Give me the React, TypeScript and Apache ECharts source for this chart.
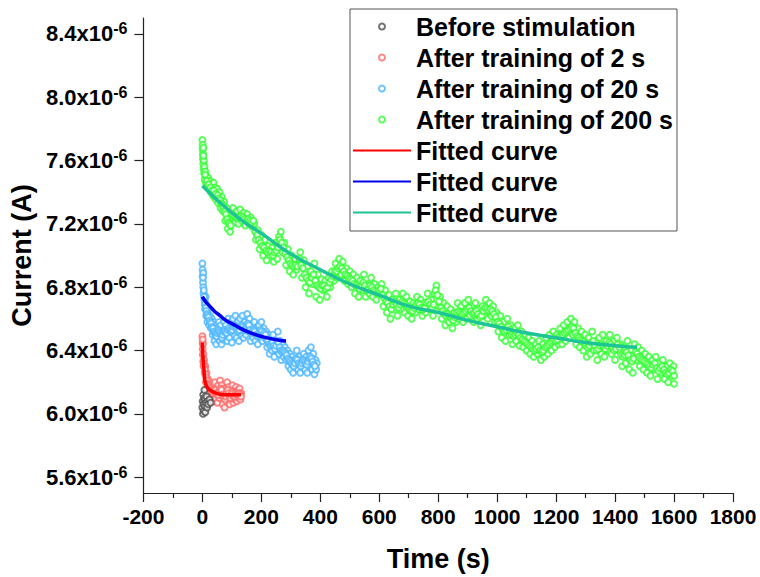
import React, { useEffect, useRef } from "react";
import * as echarts from "echarts";

// Values of current are in units of 1e-6 A
const xTicks = [-200, 1800, 200];
const yTickValues = [5.6, 6.0, 6.4, 6.8, 7.2, 7.6, 8.0, 8.4];

const beforeData: number[][] = [
  [0, 6.04], [1, 6.08], [2, 6.0], [3, 6.12], [4, 6.06], [5, 6.02], [6, 6.1], [7, 6.15], [8, 6.05],
  [9, 6.09], [10, 6.01], [12, 6.07], [14, 6.11], [16, 6.04], [18, 6.08], [20, 6.06], [24, 6.09], [28, 6.07],
];

const train2Data: number[][] = [
  [0, 6.49], [1, 6.45], [1, 6.41], [2, 6.37], [3, 6.33], [4, 6.3], [2, 6.44],
  [6, 6.34], [8, 6.26], [10, 6.3], [12, 6.2], [14, 6.26], [16, 6.16], [19, 6.22], [22, 6.14], [25, 6.2], [28, 6.12], [30, 6.18],
  [33, 6.1], [36, 6.18], [39, 6.08], [42, 6.2], [45, 6.1], [48, 6.16], [51, 6.07], [54, 6.18], [57, 6.1], [60, 6.21],
  [63, 6.12], [66, 6.18], [69, 6.06], [72, 6.16], [75, 6.04], [78, 6.14], [81, 6.08], [84, 6.2], [87, 6.1], [90, 6.17],
  [93, 6.06], [96, 6.15], [99, 6.1], [102, 6.18], [105, 6.07], [108, 6.14], [111, 6.09], [114, 6.17], [117, 6.08],
  [120, 6.15], [123, 6.1], [126, 6.16], [129, 6.09], [132, 6.13],
  [1, 6.47], [3, 6.38], [5, 6.32], [7, 6.3], [9, 6.28], [11, 6.25], [13, 6.23], [15, 6.21], [17, 6.19], [20, 6.18],
  [23, 6.17], [26, 6.16], [29, 6.15], [32, 6.14], [35, 6.13], [38, 6.13], [41, 6.14], [44, 6.15], [47, 6.13], [50, 6.12],
  [53, 6.12], [56, 6.14], [59, 6.15], [62, 6.16], [65, 6.15], [68, 6.12], [71, 6.11], [74, 6.1], [77, 6.09], [80, 6.11],
  [83, 6.14], [86, 6.15], [89, 6.13], [92, 6.11], [95, 6.1], [98, 6.12], [101, 6.14], [104, 6.13], [107, 6.11], [110, 6.11],
  [113, 6.13], [116, 6.12], [119, 6.12], [122, 6.13], [125, 6.13], [128, 6.12], [131, 6.11],
];

const train20Data: number[][] = [
  [0, 6.95], [1, 6.91], [1, 6.87], [2, 6.83], [3, 6.8], [4, 6.76], [3, 6.89], [5, 6.78],
  [7, 6.72], [9, 6.66], [11, 6.74], [13, 6.62], [15, 6.68], [17, 6.58], [20, 6.66], [23, 6.56], [26, 6.62], [29, 6.54], [32, 6.6], [35, 6.5],
  [38, 6.58], [41, 6.46], [44, 6.56], [47, 6.44], [50, 6.54], [53, 6.48], [56, 6.58], [59, 6.46], [62, 6.56], [65, 6.44], [68, 6.52], [71, 6.47], [74, 6.58], [77, 6.48],
  [80, 6.56], [84, 6.46], [88, 6.6], [92, 6.48], [96, 6.58], [100, 6.45], [104, 6.6], [108, 6.5], [112, 6.62], [116, 6.48], [120, 6.58], [124, 6.46], [128, 6.6], [132, 6.5], [136, 6.62], [140, 6.48], [144, 6.58],
  [148, 6.5], [152, 6.63], [156, 6.52], [160, 6.6], [164, 6.46], [168, 6.56], [172, 6.48], [176, 6.58], [180, 6.46], [184, 6.54], [188, 6.44], [192, 6.56], [196, 6.48], [200, 6.58], [204, 6.46], [208, 6.54], [212, 6.48],
  [216, 6.52], [220, 6.42], [224, 6.5], [228, 6.38], [232, 6.48], [236, 6.4], [240, 6.5], [244, 6.36], [248, 6.46], [252, 6.4], [256, 6.52], [260, 6.38], [264, 6.46], [268, 6.34], [272, 6.44], [276, 6.36], [280, 6.42],
  [284, 6.34], [288, 6.4], [292, 6.3], [296, 6.38], [300, 6.28], [304, 6.36], [308, 6.26], [312, 6.34], [316, 6.3], [320, 6.4], [324, 6.28], [328, 6.36], [332, 6.26], [336, 6.34], [340, 6.3], [344, 6.38], [348, 6.28],
  [352, 6.36], [356, 6.26], [360, 6.4], [364, 6.3], [368, 6.42], [372, 6.28], [376, 6.38], [380, 6.25], [384, 6.34], [386, 6.28], [388, 6.32],
  [2, 6.86], [6, 6.74], [8, 6.69], [10, 6.7], [12, 6.67], [14, 6.65], [16, 6.63], [18, 6.62], [21, 6.61], [24, 6.59], [27, 6.58], [30, 6.57],
  [33, 6.55], [36, 6.54], [39, 6.52], [42, 6.51], [45, 6.5], [48, 6.49], [51, 6.51], [54, 6.53], [57, 6.52], [60, 6.51], [63, 6.5], [66, 6.48],
  [69, 6.5], [72, 6.52], [75, 6.53], [78, 6.52], [82, 6.51], [86, 6.53], [90, 6.54], [94, 6.53], [98, 6.52], [102, 6.53], [106, 6.55], [110, 6.56],
  [114, 6.55], [118, 6.53], [122, 6.52], [126, 6.53], [130, 6.55], [134, 6.56], [138, 6.55], [142, 6.53], [146, 6.54], [150, 6.56], [154, 6.57],
  [158, 6.56], [162, 6.53], [166, 6.51], [170, 6.52], [174, 6.53], [178, 6.52], [182, 6.5], [186, 6.49], [190, 6.5], [194, 6.52], [198, 6.53],
  [202, 6.52], [206, 6.5], [210, 6.51], [214, 6.5], [218, 6.47], [222, 6.46], [226, 6.44], [230, 6.43], [234, 6.44], [238, 6.45], [242, 6.43],
  [246, 6.41], [250, 6.43], [254, 6.46], [258, 6.45], [262, 6.42], [266, 6.4], [270, 6.39], [274, 6.4], [278, 6.39], [282, 6.38], [286, 6.37],
  [290, 6.35], [294, 6.34], [298, 6.33], [302, 6.32], [306, 6.31], [310, 6.3], [314, 6.32], [318, 6.35], [322, 6.34], [326, 6.32], [330, 6.31],
  [334, 6.3], [338, 6.32], [342, 6.34], [346, 6.33], [350, 6.32], [354, 6.31], [358, 6.33], [362, 6.35], [366, 6.36], [370, 6.35], [374, 6.33],
  [378, 6.31], [382, 6.3],
];

const train200Data: number[][] = [
  [0, 7.73], [1, 7.7], [1, 7.67], [2, 7.64], [2, 7.61], [3, 7.68], [3, 7.58], [4, 7.55], [5, 7.6], [6, 7.52], [7, 7.56], [8, 7.48],
  [10, 7.53], [12, 7.46], [14, 7.5], [17, 7.44], [20, 7.49], [23, 7.42], [26, 7.47], [29, 7.4], [32, 7.45], [35, 7.38], [38, 7.46], [41, 7.37], [44, 7.43], [47, 7.35], [50, 7.42],
  [54, 7.33], [58, 7.4], [62, 7.3], [66, 7.37], [70, 7.28], [74, 7.34], [78, 7.22], [82, 7.3], [86, 7.17], [90, 7.26], [94, 7.15], [98, 7.24],
  [104, 7.3], [110, 7.21], [116, 7.28], [122, 7.2], [128, 7.29], [134, 7.22], [140, 7.27], [146, 7.19], [152, 7.26], [158, 7.2], [164, 7.24], [170, 7.18],
  [176, 7.2], [182, 7.1], [188, 7.16], [194, 7.04], [200, 7.13], [206, 7.0], [212, 7.1], [218, 6.97], [224, 7.06], [230, 7.0],
  [236, 7.05], [242, 6.96], [248, 7.08], [254, 6.98], [260, 7.12], [266, 7.15], [272, 7.02], [278, 7.08], [284, 6.94], [290, 7.04], [296, 6.9], [302, 7.0], [308, 6.88], [314, 6.98], [320, 6.91], [326, 6.95],
  [332, 7.02], [338, 6.86], [344, 6.97], [350, 6.8], [356, 6.93], [362, 6.76], [368, 6.9], [374, 6.82], [380, 6.95], [386, 6.74], [392, 6.88], [398, 6.72], [404, 6.85], [410, 6.78], [416, 6.84], [422, 6.74], [428, 6.86], [434, 6.8],
  [440, 6.9], [446, 6.84], [452, 6.95], [458, 6.86], [464, 6.98], [470, 6.88], [476, 6.96], [482, 6.84], [488, 6.92], [494, 6.82], [500, 6.9],
  [506, 6.8], [512, 6.88], [518, 6.76], [524, 6.86], [530, 6.74], [536, 6.84], [542, 6.78], [548, 6.88], [554, 6.74], [560, 6.82], [566, 6.76],
  [572, 6.86], [578, 6.74], [584, 6.82], [590, 6.72], [596, 6.8], [602, 6.76],
  [608, 6.82], [614, 6.68], [620, 6.78], [626, 6.64], [632, 6.75], [638, 6.6], [644, 6.72], [650, 6.66], [656, 6.76], [662, 6.62], [668, 6.72],
  [674, 6.66], [680, 6.76], [686, 6.64], [692, 6.74], [698, 6.62], [704, 6.71], [710, 6.6], [716, 6.7], [722, 6.64], [728, 6.74], [734, 6.66], [740, 6.72], [746, 6.62], [752, 6.7], [758, 6.64], [764, 6.76], [770, 6.66],
  [776, 6.72], [782, 6.62], [788, 6.76], [794, 6.81], [800, 6.68], [806, 6.74], [812, 6.6], [818, 6.7], [824, 6.56], [830, 6.68], [836, 6.58], [842, 6.66], [848, 6.54], [854, 6.64], [860, 6.58], [866, 6.7], [872, 6.6],
  [878, 6.68], [884, 6.58], [890, 6.7], [896, 6.6], [902, 6.72], [908, 6.62], [914, 6.68], [920, 6.58], [926, 6.7], [932, 6.6], [938, 6.66], [944, 6.56], [950, 6.68], [956, 6.62], [962, 6.72], [968, 6.6], [974, 6.7], [980, 6.62], [986, 6.68], [992, 6.58],
  [998, 6.64], [1004, 6.52], [1010, 6.62], [1016, 6.48], [1022, 6.58], [1028, 6.46], [1034, 6.6], [1040, 6.5], [1046, 6.56], [1052, 6.44], [1058, 6.54], [1064, 6.46], [1070, 6.56], [1076, 6.43],
  [1082, 6.52], [1088, 6.42], [1094, 6.5], [1100, 6.4], [1106, 6.48], [1112, 6.38], [1118, 6.46], [1124, 6.36], [1130, 6.44], [1136, 6.38], [1142, 6.46],
  [1148, 6.34], [1154, 6.44], [1160, 6.36], [1166, 6.48], [1172, 6.38], [1178, 6.5], [1184, 6.4], [1190, 6.52], [1196, 6.42], [1202, 6.5], [1208, 6.44],
  [1214, 6.54], [1220, 6.44], [1226, 6.56], [1232, 6.46], [1238, 6.58], [1244, 6.48], [1250, 6.6], [1256, 6.5], [1262, 6.58], [1268, 6.44], [1274, 6.54], [1280, 6.42],
  [1286, 6.52], [1292, 6.4], [1298, 6.5], [1304, 6.36], [1310, 6.48], [1316, 6.38], [1322, 6.52], [1328, 6.4], [1334, 6.46], [1340, 6.34], [1346, 6.48], [1352, 6.38], [1358, 6.5], [1364, 6.36], [1370, 6.46], [1376, 6.4],
  [1382, 6.5], [1388, 6.38], [1394, 6.46], [1400, 6.34], [1406, 6.48], [1412, 6.4], [1418, 6.44], [1424, 6.3], [1430, 6.42], [1436, 6.32], [1442, 6.46], [1448, 6.28], [1454, 6.4], [1460, 6.26], [1466, 6.44], [1472, 6.34], [1478, 6.42],
  [1484, 6.3], [1490, 6.4], [1496, 6.28], [1502, 6.38], [1508, 6.26], [1514, 6.36], [1520, 6.24], [1526, 6.34], [1532, 6.28], [1538, 6.36], [1544, 6.22], [1550, 6.32], [1556, 6.26], [1562, 6.34], [1568, 6.22], [1574, 6.3], [1580, 6.2], [1586, 6.32], [1592, 6.24], [1598, 6.3], [1600, 6.19],
  [3, 7.63], [9, 7.51], [15, 7.47], [21, 7.45], [27, 7.43], [33, 7.41], [39, 7.41], [45, 7.39],
  [52, 7.38], [56, 7.36], [60, 7.35], [64, 7.33], [68, 7.32], [72, 7.31], [76, 7.28], [80, 7.26], [84, 7.23], [88, 7.21], [92, 7.2], [96, 7.19],
  [101, 7.26], [107, 7.25], [113, 7.24], [119, 7.24], [125, 7.24], [131, 7.25], [137, 7.24], [143, 7.23], [149, 7.22], [155, 7.23], [161, 7.22], [167, 7.21],
  [173, 7.22], [179, 7.15], [185, 7.13], [191, 7.1], [197, 7.08], [203, 7.06], [209, 7.05], [215, 7.03], [221, 7.02], [227, 7.03], [233, 7.02],
  [239, 7.0], [245, 7.02], [251, 7.03], [257, 7.05], [263, 7.1], [269, 7.08], [275, 7.05], [281, 7.01], [287, 6.99], [293, 6.97], [299, 6.95], [305, 6.94], [311, 6.93], [317, 6.94], [323, 6.93], [329, 6.98],
  [335, 6.94], [341, 6.92], [347, 6.88], [353, 6.86], [359, 6.84], [365, 6.83], [371, 6.86], [377, 6.88], [383, 6.84], [389, 6.81], [395, 6.8], [401, 6.79], [407, 6.81], [413, 6.81], [419, 6.79], [425, 6.8], [431, 6.83], [437, 6.85],
  [443, 6.87], [449, 6.9], [455, 6.9], [461, 6.92], [467, 6.93], [473, 6.92], [479, 6.9], [485, 6.88], [491, 6.87], [497, 6.86],
  [503, 6.85], [509, 6.84], [515, 6.82], [521, 6.81], [527, 6.8], [533, 6.79], [539, 6.81], [545, 6.83], [551, 6.81], [557, 6.78], [563, 6.79], [569, 6.81], [575, 6.8], [581, 6.78], [587, 6.77], [593, 6.76], [599, 6.78],
  [605, 6.79], [611, 6.75], [617, 6.73], [623, 6.71], [629, 6.7], [635, 6.68], [641, 6.66], [647, 6.69], [653, 6.71], [659, 6.69], [665, 6.67], [671, 6.69],
  [677, 6.71], [683, 6.7], [689, 6.69], [695, 6.68], [701, 6.66], [707, 6.65], [713, 6.65], [719, 6.67], [725, 6.69], [731, 6.7], [737, 6.69], [743, 6.67], [749, 6.66], [755, 6.67], [761, 6.7], [767, 6.71], [773, 6.69],
  [779, 6.67], [785, 6.69], [791, 6.78], [797, 6.75], [803, 6.71], [809, 6.67], [815, 6.65], [821, 6.63], [827, 6.62], [833, 6.63], [839, 6.62], [845, 6.6], [851, 6.59], [857, 6.61], [863, 6.64], [869, 6.65], [875, 6.64],
  [881, 6.63], [887, 6.64], [893, 6.65], [899, 6.66], [905, 6.67], [911, 6.65], [917, 6.63], [923, 6.64], [929, 6.65], [935, 6.63], [941, 6.61], [947, 6.62], [953, 6.65], [959, 6.67], [965, 6.66], [971, 6.65], [977, 6.66], [983, 6.65], [989, 6.63], [995, 6.61],
  [1001, 6.58], [1007, 6.57], [1013, 6.55], [1019, 6.53], [1025, 6.52], [1031, 6.53], [1037, 6.55], [1043, 6.53], [1049, 6.5], [1055, 6.49], [1061, 6.5], [1067, 6.51], [1073, 6.5], [1079, 6.48],
  [1085, 6.47], [1091, 6.46], [1097, 6.45], [1103, 6.44], [1109, 6.43], [1115, 6.42], [1121, 6.41], [1127, 6.4], [1133, 6.41], [1139, 6.42], [1145, 6.4],
  [1151, 6.39], [1157, 6.4], [1163, 6.42], [1169, 6.43], [1175, 6.44], [1181, 6.45], [1187, 6.46], [1193, 6.47], [1199, 6.46], [1205, 6.47], [1211, 6.49],
  [1217, 6.49], [1223, 6.5], [1229, 6.51], [1235, 6.52], [1241, 6.53], [1247, 6.54], [1253, 6.55], [1259, 6.54], [1265, 6.51], [1271, 6.49], [1277, 6.48], [1283, 6.47],
  [1289, 6.46], [1295, 6.45], [1301, 6.43], [1307, 6.42], [1313, 6.43], [1319, 6.45], [1325, 6.46], [1331, 6.43], [1337, 6.4], [1343, 6.41], [1349, 6.43], [1355, 6.44], [1361, 6.43], [1367, 6.41], [1373, 6.43], [1379, 6.45],
  [1385, 6.44], [1391, 6.42], [1397, 6.4], [1403, 6.41], [1409, 6.44], [1415, 6.42], [1421, 6.37], [1427, 6.36], [1433, 6.37], [1439, 6.39], [1445, 6.37], [1451, 6.34], [1457, 6.33], [1463, 6.35], [1469, 6.39], [1475, 6.38], [1481, 6.36],
  [1487, 6.35], [1493, 6.34], [1499, 6.33], [1505, 6.32], [1511, 6.31], [1517, 6.3], [1523, 6.29], [1529, 6.31], [1535, 6.32], [1541, 6.29], [1547, 6.27], [1553, 6.29], [1559, 6.3], [1565, 6.28], [1571, 6.26], [1577, 6.25], [1583, 6.26], [1589, 6.28], [1595, 6.27], [1600, 6.24],
];

const fit2Data: number[][] = [
  [0, 6.45], [2, 6.36], [5, 6.29], [8, 6.22], [13, 6.18], [20, 6.16], [30, 6.145], [40, 6.135], [52, 6.126], [70, 6.122], [90, 6.12], [110, 6.12], [131, 6.12],
];

const fit20Data: number[][] = [
  [0, 6.74], [10, 6.71], [20, 6.69], [40, 6.65], [60, 6.62], [80, 6.59], [100, 6.57], [140, 6.53], [180, 6.5], [220, 6.48], [260, 6.465], [284, 6.46],
];

const fit200Data: number[][] = [
  [0, 7.44], [50, 7.35], [100, 7.27], [150, 7.2], [200, 7.14], [300, 7.01], [400, 6.91], [500, 6.82], [600, 6.75], [700, 6.68],
  [800, 6.64], [900, 6.59], [1000, 6.55], [1100, 6.51], [1200, 6.48], [1300, 6.45], [1400, 6.43], [1475, 6.42],
];

const FONT = 'Arial, "Liberation Sans", sans-serif';

export default function App() {
  const ref = useRef<HTMLDivElement>(null);
  useEffect(() => {
    if (!ref.current) return;
    const chart = echarts.init(ref.current, undefined, { renderer: "svg" });
    const scatter = (name: string, data: number[][], color: string, z: number) => ({
      name,
      type: "scatter",
      data,
      symbol: "emptyCircle",
      symbolSize: 6,
      z,
      itemStyle: { color, borderColor: color, borderWidth: 1.5 },
    });
    const line = (name: string, data: number[][], color: string) => ({
      name,
      type: "line",
      data,
      symbol: "none",
      smooth: true,
      z: 10,
      lineStyle: { color, width: 3.5 },
      itemStyle: { color },
    });
    chart.setOption({
      animation: false,
      backgroundColor: "#ffffff",
      grid: { left: 142, right: 27, top: 18, bottom: 82, containLabel: false },
      legend: {
        left: 350,
        top: 9,
        orient: "vertical",
        padding: [5, 4, 6, 2],
        borderColor: "#555",
        borderWidth: 1,
        backgroundColor: "#fff",
        itemWidth: 58,
        itemHeight: 6,
        itemGap: 6,
        textStyle: { fontFamily: FONT, fontWeight: "bold", fontSize: 25, lineHeight: 24, color: "#000" },
        formatter: (name: string) => (name.indexOf("Fitted curve") === 0 ? "Fitted curve" : name),
        data: [
          { name: "Before stimulation", icon: "emptyCircle" },
          { name: "After training of 2 s", icon: "emptyCircle" },
          { name: "After training of 20 s", icon: "emptyCircle" },
          { name: "After training of 200 s", icon: "emptyCircle" },
          { name: "Fitted curve (2 s)", itemStyle: { opacity: 0 } },
          { name: "Fitted curve (20 s)", itemStyle: { opacity: 0 } },
          { name: "Fitted curve (200 s)", itemStyle: { opacity: 0 } },
        ],
      },
      xAxis: {
        type: "value",
        min: xTicks[0],
        max: xTicks[1],
        interval: xTicks[2],
        name: "Time (s)",
        nameLocation: "middle",
        nameGap: 52,
        nameTextStyle: { fontFamily: FONT, fontWeight: "bold", fontSize: 27, color: "#000" },
        axisLine: { onZero: false, lineStyle: { color: "#222", width: 1.2 } },
        axisTick: { length: 9, lineStyle: { color: "#222", width: 1.2 } },
        minorTick: { show: true, splitNumber: 2, length: 5, lineStyle: { color: "#222", width: 1.2 } },
        axisLabel: {
          margin: 13,
          fontFamily: FONT,
          fontWeight: "bold",
          fontSize: 21,
          color: "#000",
          formatter: (v: number) => String(v),
        },
        splitLine: { show: false },
      },
      yAxis: {
        type: "value",
        min: 5.5,
        max: 8.5,
        name: "Current (A)",
        nameLocation: "middle",
        nameGap: 103,
        nameTextStyle: { fontFamily: FONT, fontWeight: "bold", fontSize: 27, color: "#000" },
        axisLine: { onZero: false, lineStyle: { color: "#222", width: 1.2 } },
        axisTick: { length: 9, customValues: yTickValues, lineStyle: { color: "#222", width: 1.2 } },
        axisLabel: {
          margin: 16,
          customValues: yTickValues,
          formatter: (v: number) => `{a|${v.toFixed(1)}x10}{b|-6}`,
          rich: {
            a: { fontFamily: FONT, fontWeight: "bold", fontSize: 22, lineHeight: 26, color: "#000" },
            b: { fontFamily: FONT, fontWeight: "bold", fontSize: 16, lineHeight: 16, verticalAlign: "top", color: "#000" },
          },
        },
        splitLine: { show: false },
      },
      series: [
        scatter("After training of 200 s", train200Data, "#33FF33", 2),
        scatter("After training of 20 s", train20Data, "#4DB6FF", 3),
        scatter("After training of 2 s", train2Data, "#FF6B6B", 4),
        scatter("Before stimulation", beforeData, "#505050", 5),
        line("Fitted curve (2 s)", fit2Data, "#FF0000"),
        line("Fitted curve (20 s)", fit20Data, "#0000EE"),
        line("Fitted curve (200 s)", fit200Data, "#1CC496"),
      ],
    });
    return () => chart.dispose();
  }, []);
  return <div ref={ref} style={{ width: 760, height: 577, position: "absolute", left: 0, top: 0 }} />;
}
